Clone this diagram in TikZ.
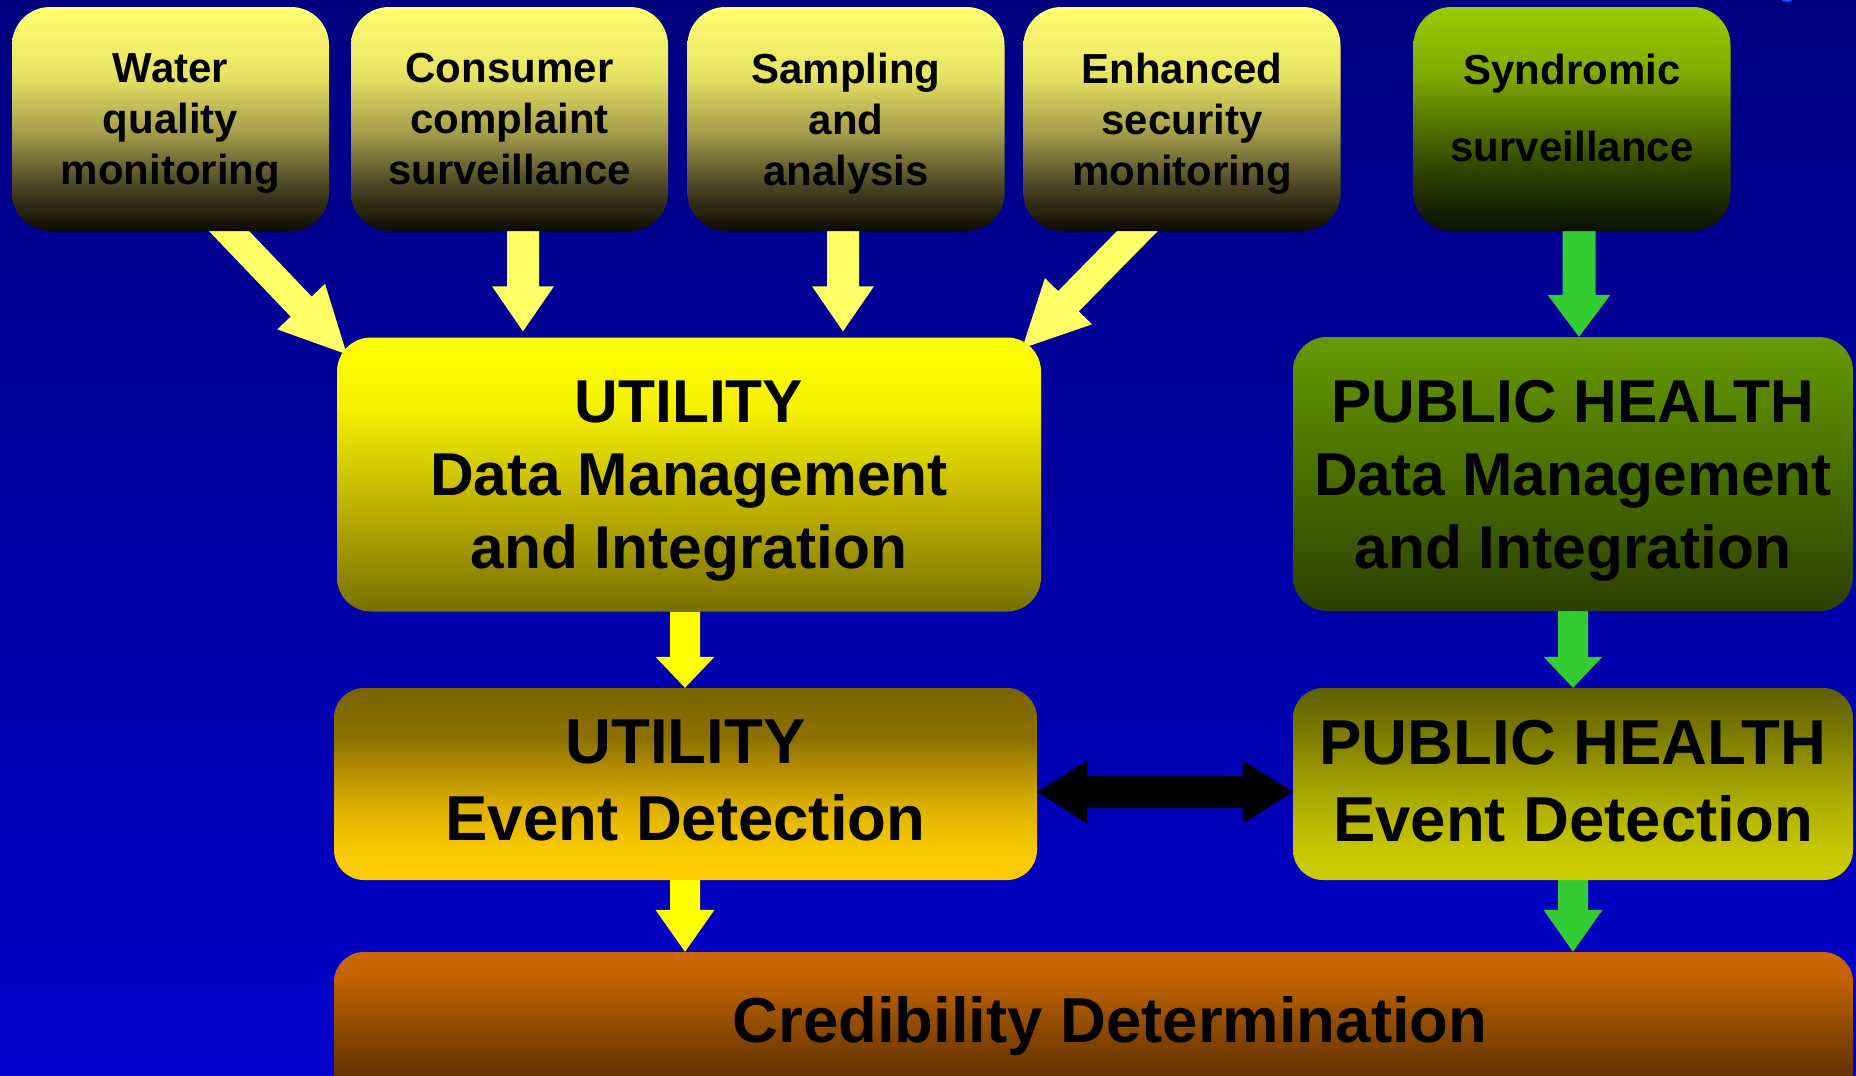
\documentclass[tikz,border=0pt]{standalone}
\usepackage{fontspec}
\setmainfont{Liberation Sans}
\usetikzlibrary{calc,backgrounds}

% colour stops of the box shadings (listed from the bottom up: 25bp = bottom edge, 75bp = top edge)
\definecolor{bgtop}{HTML}{00007F}
\definecolor{bgbot}{HTML}{0000CC}

\definecolor{tyA}{HTML}{0C0A00}
\definecolor{tyB}{HTML}{4A4424}
\definecolor{tyC}{HTML}{A8A04C}
\definecolor{tyD}{HTML}{E8E464}
\definecolor{tyE}{HTML}{FFFF70}
\pgfdeclareverticalshading{inputshade}{100bp}{color(0bp)=(tyA); color(25bp)=(tyA); color(35bp)=(tyB); color(47.5bp)=(tyC); color(60bp)=(tyD); color(75bp)=(tyE); color(100bp)=(tyE)}

\definecolor{sgA}{HTML}{0A1200}
\definecolor{sgB}{HTML}{1C2A00}
\definecolor{sgC}{HTML}{344A00}
\definecolor{sgD}{HTML}{587A00}
\definecolor{sgE}{HTML}{7FAA00}
\definecolor{sgF}{HTML}{99CC00}
\pgfdeclareverticalshading{syndshade}{100bp}{color(0bp)=(sgA); color(25bp)=(sgA); color(32.5bp)=(sgB); color(40bp)=(sgC); color(50bp)=(sgD); color(60bp)=(sgE); color(75bp)=(sgF); color(100bp)=(sgF)}

\definecolor{udA}{HTML}{787000}
\definecolor{udB}{HTML}{C0B400}
\definecolor{udC}{HTML}{F6F200}
\definecolor{udD}{HTML}{FFFF00}
\pgfdeclareverticalshading{udmshade}{100bp}{color(0bp)=(udA); color(25bp)=(udA); color(45bp)=(udB); color(62.5bp)=(udC); color(75bp)=(udD); color(100bp)=(udD)}

\definecolor{pdA}{HTML}{2A4000}
\definecolor{pdB}{HTML}{4A6E00}
\definecolor{pdC}{HTML}{669900}
\pgfdeclareverticalshading{pdmshade}{100bp}{color(0bp)=(pdA); color(25bp)=(pdA); color(50bp)=(pdB); color(75bp)=(pdC); color(100bp)=(pdC)}

\definecolor{ueA}{HTML}{FFCC00}
\definecolor{ueB}{HTML}{F8C800}
\definecolor{ueC}{HTML}{DDB000}
\definecolor{ueD}{HTML}{B89000}
\definecolor{ueE}{HTML}{8E7200}
\definecolor{ueF}{HTML}{7A6400}
\pgfdeclareverticalshading{uedshade}{100bp}{color(0bp)=(ueA); color(25bp)=(ueA); color(33bp)=(ueB); color(44bp)=(ueC); color(53bp)=(ueD); color(61.5bp)=(ueE); color(75bp)=(ueF); color(100bp)=(ueF)}

\definecolor{peA}{HTML}{CCCC00}
\definecolor{peB}{HTML}{C6C600}
\definecolor{peC}{HTML}{B0B000}
\definecolor{peD}{HTML}{999900}
\definecolor{peE}{HTML}{7F7F00}
\definecolor{peF}{HTML}{5F5F00}
\pgfdeclareverticalshading{pedshade}{100bp}{color(0bp)=(peA); color(25bp)=(peA); color(33bp)=(peB); color(44bp)=(peC); color(53bp)=(peD); color(61.5bp)=(peE); color(75bp)=(peF); color(100bp)=(peF)}

\definecolor{crA}{HTML}{552A00}
\definecolor{crB}{HTML}{663300}
\definecolor{crC}{HTML}{7A3E00}
\definecolor{crD}{HTML}{985000}
\definecolor{crE}{HTML}{C46200}
\definecolor{crF}{HTML}{CC6600}
\pgfdeclareverticalshading{credshade}{100bp}{color(0bp)=(crA); color(25bp)=(crA); color(36bp)=(crB); color(44bp)=(crC); color(54.5bp)=(crD); color(67bp)=(crE); color(75bp)=(crF); color(100bp)=(crF)}

\definecolor{lightarrow}{HTML}{FFFF66}
\definecolor{yellowarrow}{HTML}{FFFF00}
\definecolor{greenarrow}{HTML}{33CC33}

% block arrow: #1 style, #2 start, #3 tip, #4 shaft half width, #5 head half width, #6 head length
\newcommand{\blockarrow}[6]{%
  \path ($(#3)!#6!(#2)$) coordinate (ba-h);
  \fill[#1] ($(#2)!#4!90:(#3)$) -- ($(ba-h)!#4!-90:(#2)$) -- ($(ba-h)!#5!-90:(#2)$)
    -- (#3) -- ($(ba-h)!#5!90:(#2)$) -- ($(ba-h)!#4!90:(#2)$) -- ($(#2)!#4!-90:(#3)$) -- cycle;
}

\begin{document}
\begin{tikzpicture}[x=1pt,y=-1pt,
  box/.style={rectangle, inner sep=0pt, align=center, text=black, font=\bfseries},
  inputbox/.style={box, rounded corners=38pt, minimum width=317pt, minimum height=224pt,
    shading=inputshade, text depth=0pt, font=\bfseries\fontsize{42pt}{51pt}\selectfont},
  dmbox/.style={box, rounded corners=34pt, minimum height=274pt, text depth=0pt,
    font=\bfseries\fontsize{60.5pt}{73pt}\selectfont},
  edbox/.style={box, rounded corners=30pt, minimum height=192pt, text depth=7pt,
    font=\bfseries\fontsize{63.5pt}{77pt}\selectfont}
]
\useasboundingbox (0,0) rectangle (1856,1076);
\begin{scope}
\clip (0,0) rectangle (1856,1076);

% data sources
\node[inputbox] (wq) at (170.5,119) {Water\\quality\\monitoring};
\node[inputbox] (cc) at (509.5,119) {Consumer\\complaint\\surveillance};
\node[inputbox] (sa) at (846,119) {Sampling\\and\\analysis};
\node[inputbox] (es) at (1182,119) {Enhanced\\security\\monitoring};
\node[inputbox, shading=syndshade, text depth=23pt] (sy) at (1572,119) {Syndromic\\[26pt]surveillance};

% data management and integration
\node[dmbox, minimum width=704pt, shading=udmshade] (udm) at (689,474.5)
  {UTILITY\\Data Management\\and Integration};
\node[dmbox, minimum width=560pt, shading=pdmshade] (pdm) at (1573,474)
  {PUBLIC HEALTH\\Data Management\\and Integration};

% event detection
\node[edbox, minimum width=703pt, shading=uedshade] (ued) at (685.5,784)
  {UTILITY\\Event Detection};
\node[edbox, minimum width=560pt, shading=pedshade] (ped) at (1573,784)
  {PUBLIC HEALTH\\Event Detection};

% credibility determination (runs past the lower edge)
\node[box, rounded corners=30pt, minimum width=1519pt, minimum height=158pt, shading=credshade]
  (cred) at (1093.5,1031) {};
\node[box, font=\bfseries\fontsize{63.5pt}{77pt}\selectfont] (credtext) at (1110,1026)
  {Credibility Determination};

% connector end points
\coordinate (wq-out) at ($(wq.south)+(29,-31)$);
\coordinate (udm-nw) at ($(udm.north west)+(10,17)$);
\coordinate (cc-out) at ($(cc.south)+(13.5,-31)$);
\coordinate (udm-in2) at ($(udm.north)+(-166,-6)$);
\coordinate (sa-out) at ($(sa.south)+(-3,-31)$);
\coordinate (udm-in3) at ($(udm.north)+(154,-6)$);
\coordinate (es-out) at ($(es.south)+(-14.3,-31)$);
\coordinate (udm-ne) at ($(udm.north east)+(-19,11)$);
\coordinate (sy-out) at ($(sy.south)+(7,-31)$);
\coordinate (pdm-in) at ($(pdm.north)+(6,0)$);
\coordinate (udm-out) at ($(udm.south)+(-4,0)$);
\coordinate (ued-in) at ($(ued.north)+(-0.5,0)$);
\coordinate (ued-out) at ($(ued.south)+(-0.5,0)$);
\coordinate (cred-in1) at (ued-out |- cred.north);
\coordinate (pdm-out) at (pdm.south);
\coordinate (ped-in) at (ped.north);
\coordinate (ped-out) at (ped.south);
\coordinate (cred-in2) at (ped-out |- cred.north);
\coordinate (ued-side) at ($(ued.east)+(0,8)$);
\coordinate (ped-side) at ($(ped.west)+(0,8)$);

\begin{pgfonlayer}{background}
  % backdrop
  \shade[top color=bgtop, bottom color=bgbot] (0,0) rectangle (1856,1076);
  \shade[inner color=cyan!60!blue, outer color=blue!70!cyan] (1787,-8) ellipse (10 and 10);
  % connectors, tucked under the boxes
  \blockarrow{lightarrow}{wq-out}{udm-nw}{14.5pt}{33pt}{66pt}
  \blockarrow{lightarrow}{cc-out}{udm-in2}{16pt}{31pt}{45pt}
  \blockarrow{lightarrow}{sa-out}{udm-in3}{16pt}{31pt}{45pt}
  \blockarrow{lightarrow}{es-out}{udm-ne}{14.5pt}{33pt}{66pt}
  \blockarrow{greenarrow}{sy-out}{pdm-in}{16.5pt}{31.5pt}{42pt}
  \blockarrow{yellowarrow}{udm-out}{ued-in}{15pt}{29.5pt}{31pt}
  \blockarrow{greenarrow}{pdm-out}{ped-in}{15pt}{29.5pt}{31pt}
  \blockarrow{yellowarrow}{ued-out}{cred-in1}{15pt}{29.5pt}{42pt}
  \blockarrow{greenarrow}{ped-out}{cred-in2}{15pt}{29.5pt}{42pt}
  % two-way link between the event detection boxes
  \fill[black] (ued-side) -- ++(50,-31.5) -- ++(0,15.5) -- ($(ped-side)+(-50,-16)$)
    -- ++(0,-15.5) -- (ped-side) -- ++(-50,31.5) -- ++(0,-15.5)
    -- ($(ued-side)+(50,16)$) -- ++(0,15.5) -- cycle;
\end{pgfonlayer}
\end{scope}
\end{tikzpicture}
\end{document}
